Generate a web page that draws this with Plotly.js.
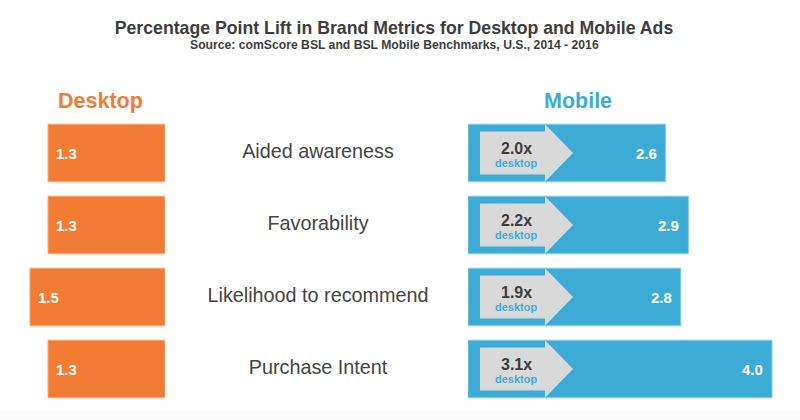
<!DOCTYPE html>
<html>
<head>
<meta charset="utf-8">
<script src="https://cdn.plot.ly/plotly-3.0.1.min.js"></script>
<style>html,body{margin:0;padding:0;background:#fff;}#chart{width:800px;height:420px;}</style>
</head>
<body>
<div id="chart"></div>
<script>
// ---- data ----
const categories = ['Aided awareness', 'Favorability', 'Likelihood to recommend', 'Purchase Intent'];
const desktopLift = [1.3, 1.3, 1.5, 1.3];
const mobileLift = [2.6, 2.9, 2.8, 4.0];
const mobileVsDesktop = ['2.0x', '2.2x', '1.9x', '3.1x'];
const multiplierNote = 'desktop';
const seriesNames = ['Desktop', 'Mobile'];
const chartTitle = 'Percentage Point Lift in Brand Metrics for Desktop and Mobile Ads';
const chartSource = 'Source: comScore BSL and BSL Mobile Benchmarks, U.S., 2014 - 2016';

// ---- styles ----
const FONT = 'Liberation Sans, Arial, Helvetica, sans-serif';
const ORANGE = '#F27C34';
const BLUE = '#3CACD6';
const GRAY = '#D9D9D9';
const DARK = '#3d3d3d';
const W = 800, H = 420;

const desktopScale = 90;   // px per unit
const mobileScale = 76;    // px per unit
const desktopRight = 165;
const mobileLeft = 468;
const mx = p => (p - mobileLeft) / mobileScale;   // pixel -> mobile axis value

const traces = [
  {
    type: 'bar', orientation: 'h', name: seriesNames[0],
    x: desktopLift, y: categories, xaxis: 'x', yaxis: 'y',
    width: 0.8,
    marker: {color: ORANGE, line: {color: '#F8A774', width: 1}},
    hoverinfo: 'skip', showlegend: false
  },
  {
    type: 'bar', orientation: 'h', name: seriesNames[1],
    x: mobileLift, y: categories, xaxis: 'x2', yaxis: 'y',
    width: 0.8,
    marker: {color: BLUE, line: {color: '#86CDE8', width: 1}},
    hoverinfo: 'skip', showlegend: false
  },
  {
    type: 'scatter', mode: 'text',
    x: categories.map(() => 0), y: categories, text: categories,
    xaxis: 'x3', yaxis: 'y',
    textfont: {family: FONT, size: 19.8, color: '#444444'},
    textposition: 'middle center',
    hoverinfo: 'skip', showlegend: false
  }
];

const shapes = [
  {type: 'rect', xref: 'paper', yref: 'paper', x0: 0, x1: 1, y0: 0, y1: 9 / H,
   fillcolor: '#FAFAFA', line: {width: 0}, layer: 'below'}
];
const annotations = [];

categories.forEach((c, i) => {
  const x0 = mx(480), x1 = mx(545), xt = mx(573);
  const path = `M${x0},${i - 0.3} L${x1},${i - 0.3} L${x1},${i - 0.4} L${xt},${i} L${x1},${i + 0.4} L${x1},${i + 0.3} L${x0},${i + 0.3} Z`;
  shapes.push({type: 'path', xref: 'x2', yref: 'y', path: path, fillcolor: GRAY, line: {width: 0}, layer: 'above'});

  annotations.push({
    xref: 'x2', yref: 'y', x: mx(516), y: i, yshift: 5,
    text: '<b>' + mobileVsDesktop[i] + '</b>', showarrow: false,
    font: {family: FONT, size: 16, color: DARK}, xanchor: 'center', yanchor: 'middle'
  });
  annotations.push({
    xref: 'x2', yref: 'y', x: mx(516), y: i, yshift: -10,
    text: '<b>' + multiplierNote + '</b>', showarrow: false,
    font: {family: FONT, size: 11, color: BLUE}, xanchor: 'center', yanchor: 'middle'
  });
  annotations.push({
    xref: 'x', yref: 'y', x: desktopLift[i], y: c, xshift: 6,
    text: '<b>' + desktopLift[i].toFixed(1) + '</b>', showarrow: false,
    font: {family: FONT, size: 15, color: '#ffffff'}, xanchor: 'left', yanchor: 'middle'
  });
  annotations.push({
    xref: 'x2', yref: 'y', x: mobileLift[i], y: c, xshift: -7,
    text: '<b>' + mobileLift[i].toFixed(1) + '</b>', showarrow: false,
    font: {family: FONT, size: 15, color: '#ffffff'}, xanchor: 'right', yanchor: 'middle'
  });
});

annotations.push({
  xref: 'paper', yref: 'paper', x: 56 / W, y: (H - 101) / H,
  text: '<b>' + seriesNames[0] + '</b>', showarrow: false,
  font: {family: FONT, size: 21.5, color: ORANGE}, xanchor: 'left', yanchor: 'middle'
});
annotations.push({
  xref: 'paper', yref: 'paper', x: 578 / W, y: (H - 101) / H,
  text: '<b>' + seriesNames[1] + '</b>', showarrow: false,
  font: {family: FONT, size: 21.5, color: BLUE}, xanchor: 'center', yanchor: 'middle'
});
annotations.push({
  xref: 'paper', yref: 'paper', x: 394 / W, y: (H - 45) / H,
  text: '<b>' + chartSource + '</b>', showarrow: false,
  font: {family: FONT, size: 12.2, color: DARK}, xanchor: 'center', yanchor: 'middle'
});

const hiddenAxis = {showgrid: false, zeroline: false, showticklabels: false, showline: false, ticks: '', fixedrange: true};

const layout = {
  width: W, height: H,
  margin: {l: 0, r: 0, t: 0, b: 0},
  paper_bgcolor: '#ffffff', plot_bgcolor: 'rgba(0,0,0,0)',
  title: {
    text: '<b>' + chartTitle + '</b>',
    x: 394 / W, xanchor: 'center', y: (H - 27.5) / H, yanchor: 'middle',
    font: {family: FONT, size: 17.7, color: DARK}
  },
  xaxis: Object.assign({}, hiddenAxis, {domain: [0, desktopRight / W], range: [desktopRight / desktopScale, 0], anchor: 'y'}),
  xaxis2: Object.assign({}, hiddenAxis, {domain: [mobileLeft / W, 1], range: [0, (W - mobileLeft) / mobileScale], anchor: 'y'}),
  xaxis3: Object.assign({}, hiddenAxis, {domain: [0.25, 0.545], range: [-1, 1], anchor: 'y'}),
  yaxis: Object.assign({}, hiddenAxis, {type: 'category', domain: [15 / H, 303 / H], range: [3.5, -0.5]}),
  shapes: shapes,
  annotations: annotations,
  showlegend: false,
  font: {family: FONT}
};

Plotly.newPlot('chart', traces, layout, {displayModeBar: false, staticPlot: true});
</script>
</body>
</html>
